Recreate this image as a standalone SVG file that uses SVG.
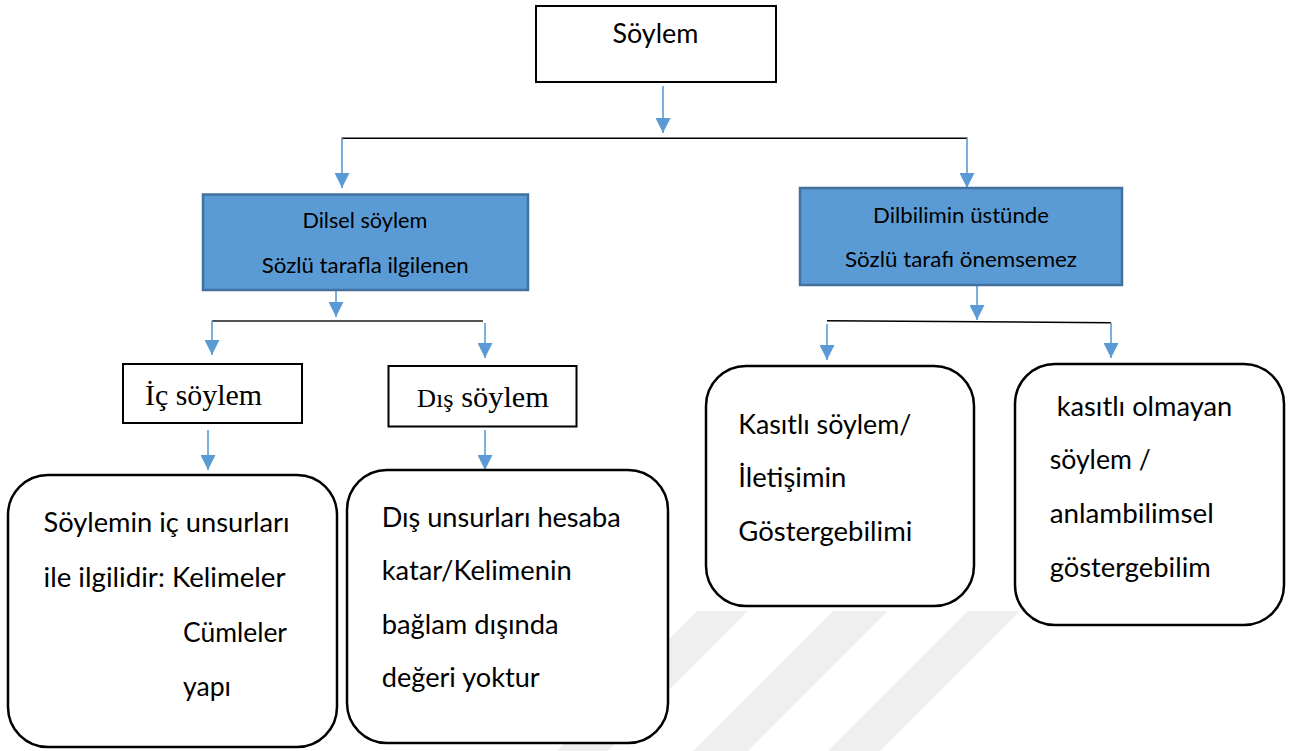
<svg xmlns="http://www.w3.org/2000/svg" width="1289" height="751" viewBox="0 0 1289 751">
<style>
.bg{fill:#ffffff}
.wm{fill:#efefef}
.plain{fill:#ffffff;stroke:#000000;stroke-width:2}
.blue{fill:#5b9bd5;stroke:#41719c;stroke-width:2.5}
.round{fill:#ffffff;stroke:#000000;stroke-width:2.5}
.t{font-family:Lato,"Liberation Sans",sans-serif;fill:#000000}
.s{font-family:"Liberation Serif",serif;fill:#000000}
.f26{font-size:26px}
.f21{font-size:21.5px}
.arr{stroke:#5b9bd5;stroke-width:1.6;fill:none;marker-end:url(#ah)}
.bar{stroke:#000000;stroke-width:1.6;fill:none}
</style>
<defs>
<marker id="ah" markerUnits="userSpaceOnUse" markerWidth="15" markerHeight="15" refX="15" refY="7.5" orient="auto">
<path d="M0,0 L15,7.5 L0,15 Z" fill="#5b9bd5"/>
</marker>
</defs>
<rect class="bg" x="0" y="0" width="1289" height="751"/>
<g id="watermark">
<polygon class="wm" points="697,611 748,611 608,751 557,751"/>
<polygon class="wm" points="833,611 888,611 748,751 693,751"/>
<polygon class="wm" points="968,611 1020,611 880,751 828,751"/>
</g>
<g id="connectors">
<line class="arr" x1="663" y1="86" x2="663" y2="133"/>
<line class="bar" x1="341.5" y1="138.3" x2="967.5" y2="138.3"/>
<line class="arr" x1="342" y1="138" x2="342" y2="188"/>
<line class="arr" x1="967" y1="138" x2="967" y2="188"/>
<line class="arr" x1="336" y1="290" x2="336" y2="317"/>
<line stroke="#555555" stroke-width="1.8" x1="212" y1="321" x2="483" y2="321"/>
<line class="arr" x1="212" y1="321" x2="212" y2="355"/>
<line class="arr" x1="485" y1="323" x2="485" y2="358"/>
<line class="arr" x1="208" y1="430" x2="208" y2="470"/>
<line class="arr" x1="485" y1="430" x2="485" y2="470"/>
<line class="arr" x1="977" y1="285" x2="977" y2="320"/>
<line class="bar" x1="827" y1="320.7" x2="1111" y2="322.7"/>
<line class="arr" x1="827" y1="324" x2="827" y2="360"/>
<line class="arr" x1="1111" y1="322.7" x2="1111" y2="358"/>
</g>
<g id="n-soylem">
<rect class="plain" x="536" y="6" width="240" height="76"/>
<text class="t f26" x="612.4" y="43" textLength="86" lengthAdjust="spacingAndGlyphs">Söylem</text>
</g>
<g id="n-dilsel">
<rect class="blue" x="203" y="194.5" width="325" height="95.5"/>
<text class="t f21" x="302.4" y="228" textLength="125" lengthAdjust="spacingAndGlyphs">Dilsel söylem</text>
<text class="t f21" x="261.7" y="273" textLength="207" lengthAdjust="spacingAndGlyphs">Sözlü tarafla ilgilenen</text>
</g>
<g id="n-dilbilimin">
<rect class="blue" x="800" y="188" width="322" height="97"/>
<text class="t f21" x="873" y="223" textLength="176" lengthAdjust="spacingAndGlyphs">Dilbilimin üstünde</text>
<text class="t f21" x="845" y="267" textLength="232" lengthAdjust="spacingAndGlyphs">Sözlü tarafı önemsemez</text>
</g>
<g id="n-ic">
<rect class="plain" x="123" y="364" width="179" height="59"/>
<text class="s" font-size="30" x="145" y="405" textLength="117" lengthAdjust="spacingAndGlyphs">İç söylem</text>
</g>
<g id="n-dis">
<rect class="plain" x="388.5" y="366" width="188" height="60.5"/>
<text class="s" font-size="30" x="417" y="406.5" textLength="132" lengthAdjust="spacingAndGlyphs"><tspan font-size="26">Dış</tspan> söylem</text>
</g>
<g id="n-ic-detail">
<rect class="round" x="8" y="475" width="329" height="272" rx="40" ry="40"/>
<text class="t f26" x="43.5" y="532" textLength="246" lengthAdjust="spacingAndGlyphs">Söylemin iç unsurları</text>
<text class="t f26" x="43.5" y="587" textLength="242" lengthAdjust="spacingAndGlyphs">ile ilgilidir: Kelimeler</text>
<text class="t f26" x="183" y="642" textLength="104" lengthAdjust="spacingAndGlyphs">Cümleler</text>
<text class="t f26" x="183" y="696" textLength="48" lengthAdjust="spacingAndGlyphs">yapı</text>
</g>
<g id="n-dis-detail">
<rect class="round" x="347" y="470" width="321" height="273" rx="40" ry="40"/>
<text class="t f26" x="381.7" y="527" textLength="239" lengthAdjust="spacingAndGlyphs">Dış unsurları hesaba</text>
<text class="t f26" x="381.7" y="580" textLength="190" lengthAdjust="spacingAndGlyphs">katar/Kelimenin</text>
<text class="t f26" x="381.7" y="634" textLength="177" lengthAdjust="spacingAndGlyphs">bağlam dışında</text>
<text class="t f26" x="381.7" y="687" textLength="158" lengthAdjust="spacingAndGlyphs">değeri yoktur</text>
</g>
<g id="n-kasitli">
<rect class="round" x="706" y="366" width="268" height="240" rx="40" ry="40"/>
<text class="t f26" x="738.3" y="434" textLength="173" lengthAdjust="spacingAndGlyphs">Kasıtlı söylem/</text>
<text class="t f26" x="738.3" y="487" textLength="108" lengthAdjust="spacingAndGlyphs">İletişimin</text>
<text class="t f26" x="738.3" y="541" textLength="174" lengthAdjust="spacingAndGlyphs">Göstergebilimi</text>
</g>
<g id="n-kasitsiz">
<rect class="round" x="1015" y="364" width="269" height="261" rx="40" ry="40"/>
<text class="t f26" x="1056.7" y="416" textLength="175.5" lengthAdjust="spacingAndGlyphs">kasıtlı olmayan</text>
<text class="t f26" x="1049.7" y="469" textLength="101" lengthAdjust="spacingAndGlyphs">söylem /</text>
<text class="t f26" x="1049.7" y="523" textLength="164" lengthAdjust="spacingAndGlyphs">anlambilimsel</text>
<text class="t f26" x="1049.7" y="577" textLength="161" lengthAdjust="spacingAndGlyphs">göstergebilim</text>
</g>
</svg>
